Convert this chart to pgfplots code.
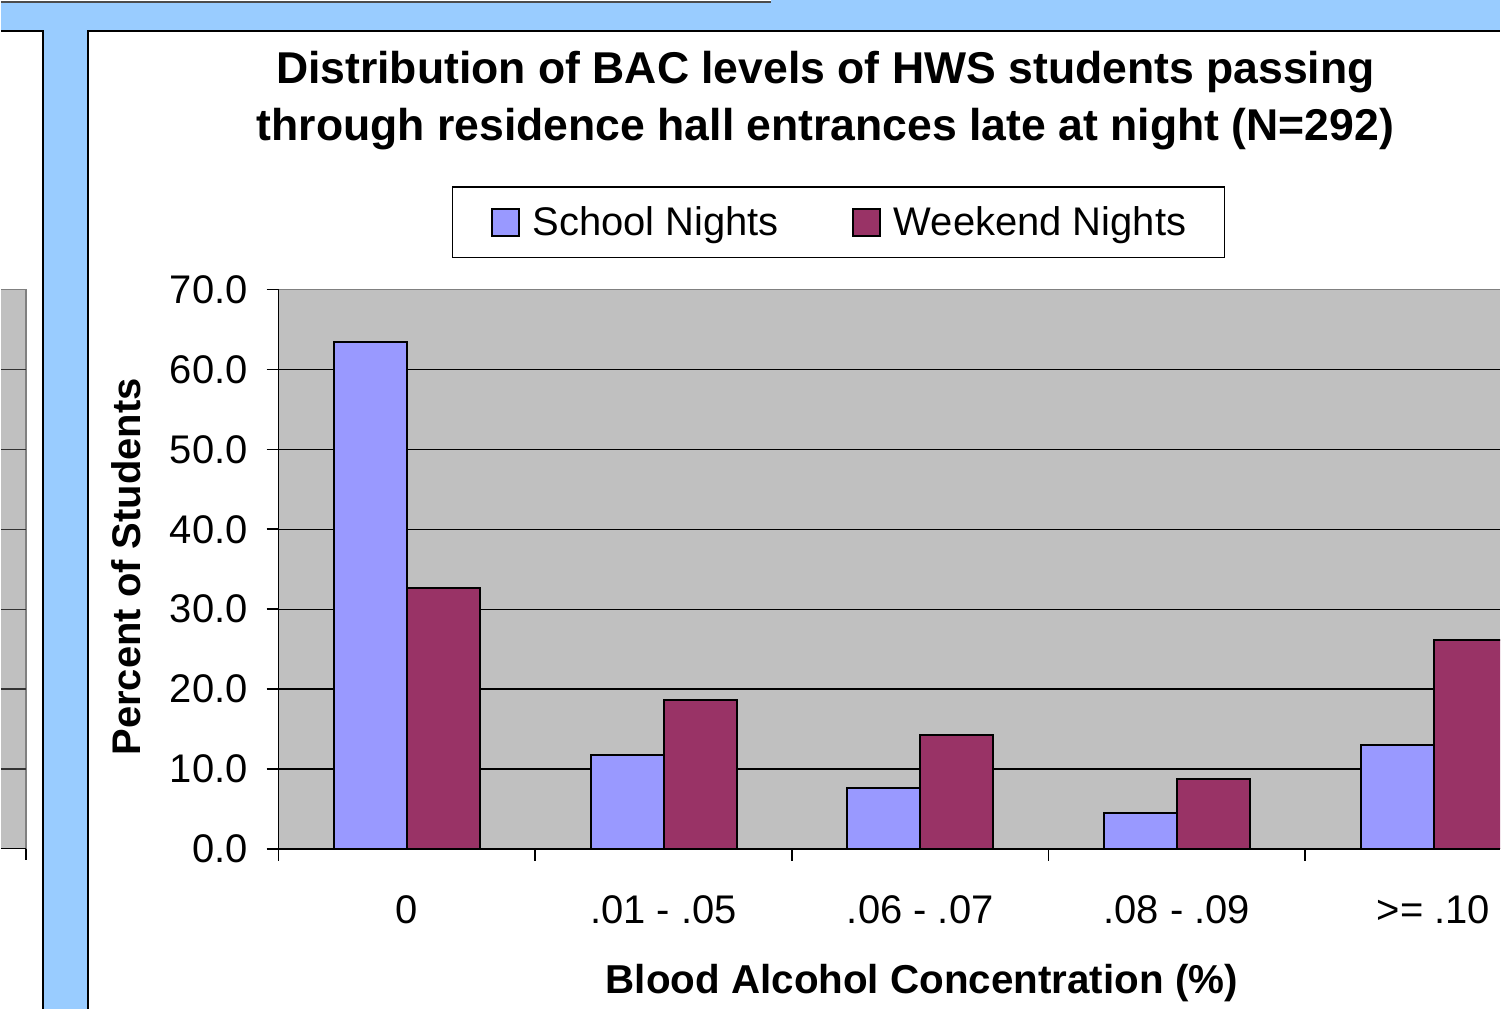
\documentclass[border=0pt]{standalone}
\usepackage{fontspec}
\setmainfont{Liberation Sans}
\usepackage{pgfplots}
\pgfplotsset{compat=1.18}
\definecolor{bgblue}{HTML}{99CCFF}
\definecolor{plotgray}{HTML}{C0C0C0}
\definecolor{bordergray}{HTML}{808080}
\definecolor{school}{HTML}{9999FF}
\definecolor{weekend}{HTML}{993366}
\pgfplotsset{sqlegend/.style={legend image code/.code={\draw[##1] (0pt,-6.75pt) rectangle (13.5pt,6.75pt);}}}
\begin{document}
\begin{tikzpicture}
\begin{scope}[x=0.5pt,y=0.5pt]
\fill[bgblue] (0,0) rectangle (1501,1010);
\fill[white] (0,1008.5) rectangle (771,1010);
\draw[black!70, line width=0.6pt] (0,1008) -- (771,1008);
% left panel (partial)
\fill[white] (0,0) rectangle (42,979);
\draw[line width=1pt] (0,979) -- (42,979) -- (42,0);
\fill[plotgray] (0,160) rectangle (25,720);
\draw[bordergray, line width=0.8pt] (0,720) -- (25,720) -- (25,160);
\foreach \g in {240,320,400,480,560,640} \draw[black!80, line width=0.6pt] (0,\g) -- (25,\g);
\draw[black, line width=0.6pt] (0,160) -- (25,160) (25,160) -- (25,149);
% main panel
\fill[white] (87,0) rectangle (1501,979);
\draw[line width=1pt] (87,0) -- (87,979) -- (1501,979);
\node[anchor=base, font=\bfseries\fontsize{22.3}{27}\selectfont, inner sep=0pt] at (825.5,926) {Distribution of BAC levels of HWS students passing};
\node[anchor=base, font=\bfseries\fontsize{22.3}{27}\selectfont, inner sep=0pt] at (825.5,869) {through residence hall entrances late at night (N=292)};
\end{scope}
\begin{axis}[
  at={(139pt,80pt)}, anchor=south west, scale only axis,
  width=611.5pt, height=280pt,
  xmin=-0.5, xmax=4.259, ymin=0, ymax=70,
  ybar=0pt, bar width=36.5pt,
  xtick={-0.5,0.5,1.5,2.5,3.5},
  xticklabels={,,,,},
  extra x ticks={0,1,2,3,4},
  extra x tick labels={0, .01 - .05, .06 - .07, .08 - .09, {>= .10}},
  extra x tick style={major tick length=0pt},
  ytick={0,10,20,30,40,50,60,70},
  yticklabel style={/pgf/number format/.cd, fixed, fixed zerofill, precision=1, assume math mode=true, /tikz/.cd, xshift=-6pt},
  xticklabel style={yshift=-19.75pt},
  tick align=outside, major tick length=6pt,
  tick style={black, line width=0.8pt},
  ymajorgrids, major grid style={black, line width=0.6pt},
  axis background/.style={fill=plotgray},
  axis x line*=bottom, axis y line*=left,
  axis line style={black, line width=0.8pt},
  ticklabel style={font=\fontsize{20}{24}\selectfont},
  legend columns=2,
  legend style={at={(0.4583,1.1205)}, anchor=center, draw=black, line width=0.6pt, fill=white,
    font=\fontsize{20}{24}\selectfont, inner xsep=19pt, inner ysep=9.6pt,
    nodes={inner sep=0pt, text depth=0.15em},
    /tikz/every odd column/.append style={column sep=6.5pt},
    /tikz/every even column/.append style={column sep=36.5pt}},
]
\addplot[fill=school, draw=black, line width=1pt, sqlegend] coordinates {(0,63.5) (1,11.8) (2,7.6) (3,4.5) (4,13.0)};
\addplot[fill=weekend, draw=black, line width=1pt, sqlegend] coordinates {(0,32.6) (1,18.6) (2,14.2) (3,8.8) (4,26.2)};
\legend{School Nights, Weekend Nights}
\end{axis}
\begin{scope}[x=0.5pt,y=0.5pt]
\draw[bordergray, line width=0.8pt] (278,720) -- (1501,720);
\node[anchor=base, font=\bfseries\fontsize{20.2}{24}\selectfont, inner sep=0pt] at (922,15) {Blood Alcohol Concentration (\%)};
\node[rotate=90, anchor=base, font=\bfseries\fontsize{20}{24}\selectfont, inner sep=0pt] at (140,442.5) {Percent of Students};
\end{scope}
\end{tikzpicture}
\end{document}
